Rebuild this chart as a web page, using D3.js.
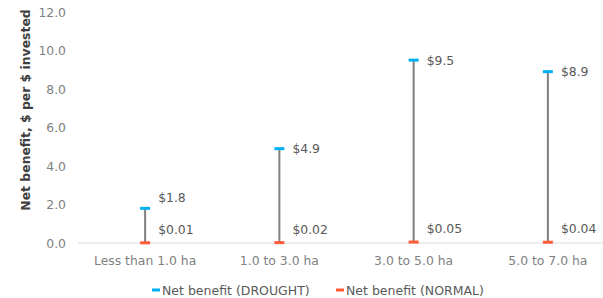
<!DOCTYPE html>
<html>
<head>
<meta charset="utf-8">
<script src="https://cdn.jsdelivr.net/npm/d3@7"></script>
<style>
  body { margin: 0; background: #fff; }
  text { font-family: "DejaVu Sans", Verdana, sans-serif; }
</style>
</head>
<body>
<div id="chart"></div>
<script>
// data
const categories = ["Less than 1.0 ha", "1.0 to 3.0 ha", "3.0 to 5.0 ha", "5.0 to 7.0 ha"];
const drought = [1.8, 4.9, 9.5, 8.9];
const normal = [0.01, 0.02, 0.05, 0.04];
const droughtLabels = ["$1.8", "$4.9", "$9.5", "$8.9"];
const normalLabels = ["$0.01", "$0.02", "$0.05", "$0.04"];
const yTicks = [0, 2, 4, 6, 8, 10, 12];

const width = 603, height = 298;
const margin = { top: 12, right: -12, bottom: 55, left: 78 };
const fs = 12.4;

const svg = d3.select("#chart").append("svg")
  .attr("width", width)
  .attr("height", height);

const x = d3.scaleBand()
  .domain(categories)
  .range([margin.left, width - margin.right]);

const y = d3.scaleLinear()
  .domain([0, 12])
  .range([height - margin.bottom, margin.top]);

// y axis tick labels
svg.append("g")
  .selectAll("text")
  .data(yTicks)
  .enter().append("text")
  .attr("x", 66)
  .attr("y", d => y(d) + 4.5)
  .attr("text-anchor", "end")
  .attr("font-size", fs)
  .attr("fill", "#7f7f7f")
  .text(d => d.toFixed(1));

// y axis title
svg.append("text")
  .attr("transform", "translate(30,110) rotate(-90)")
  .attr("text-anchor", "middle")
  .attr("font-size", fs)
  .attr("font-weight", "bold")
  .attr("fill", "#404040")
  .text("Net benefit, $ per $ invested");

// baseline
svg.append("line")
  .attr("x1", margin.left)
  .attr("x2", width)
  .attr("y1", y(0))
  .attr("y2", y(0))
  .attr("stroke", "#d9d9d9")
  .attr("stroke-width", 1);

// x axis labels
svg.append("g")
  .selectAll("text")
  .data(categories)
  .enter().append("text")
  .attr("x", d => x(d) + x.bandwidth() / 2)
  .attr("y", y(0) + 22)
  .attr("text-anchor", "middle")
  .attr("font-size", fs)
  .attr("fill", "#7f7f7f")
  .text(d => d);

const cx = i => x(categories[i]) + x.bandwidth() / 2;

// high-low lines
svg.append("g")
  .selectAll("line")
  .data(categories)
  .enter().append("line")
  .attr("x1", (d, i) => cx(i))
  .attr("x2", (d, i) => cx(i))
  .attr("y1", (d, i) => y(drought[i]))
  .attr("y2", (d, i) => y(normal[i]))
  .attr("stroke", "#7f7f7f")
  .attr("stroke-width", 2);

// markers
svg.append("g")
  .selectAll("rect")
  .data(drought)
  .enter().append("rect")
  .attr("x", (d, i) => cx(i) - 5)
  .attr("y", d => y(d) - 1.5)
  .attr("width", 10)
  .attr("height", 3)
  .attr("fill", "#00b0f0");

svg.append("g")
  .selectAll("rect")
  .data(normal)
  .enter().append("rect")
  .attr("x", (d, i) => cx(i) - 5)
  .attr("y", d => y(d) - 1.5)
  .attr("width", 10)
  .attr("height", 3)
  .attr("fill", "#ff5a36");

// data labels (drought label pushed up when it would crowd the normal label)
svg.append("g")
  .selectAll("text")
  .data(drought)
  .enter().append("text")
  .attr("x", (d, i) => cx(i) + 13)
  .attr("y", (d, i) => Math.min(y(d) + 4.5, y(normal[i]) - 41))
  .attr("font-size", fs)
  .attr("fill", "#595959")
  .text((d, i) => droughtLabels[i]);

svg.append("g")
  .selectAll("text")
  .data(normal)
  .enter().append("text")
  .attr("x", (d, i) => cx(i) + 13)
  .attr("y", d => y(d) - 9)
  .attr("font-size", fs)
  .attr("fill", "#595959")
  .text((d, i) => normalLabels[i]);

// legend
const legendItems = [
  { label: "Net benefit (DROUGHT)", color: "#00b0f0", x: 152 },
  { label: "Net benefit (NORMAL)", color: "#ff5a36", x: 336 }
];
const legend = svg.append("g")
  .selectAll("g")
  .data(legendItems)
  .enter().append("g")
  .attr("transform", d => "translate(" + d.x + "," + 290 + ")");
legend.append("rect")
  .attr("x", 0)
  .attr("y", -1.5)
  .attr("width", 8)
  .attr("height", 3)
  .attr("fill", d => d.color);
legend.append("text")
  .attr("x", 10)
  .attr("y", 4.5)
  .attr("font-size", 12.5)
  .attr("fill", "#595959")
  .text(d => d.label);
</script>
</body>
</html>
